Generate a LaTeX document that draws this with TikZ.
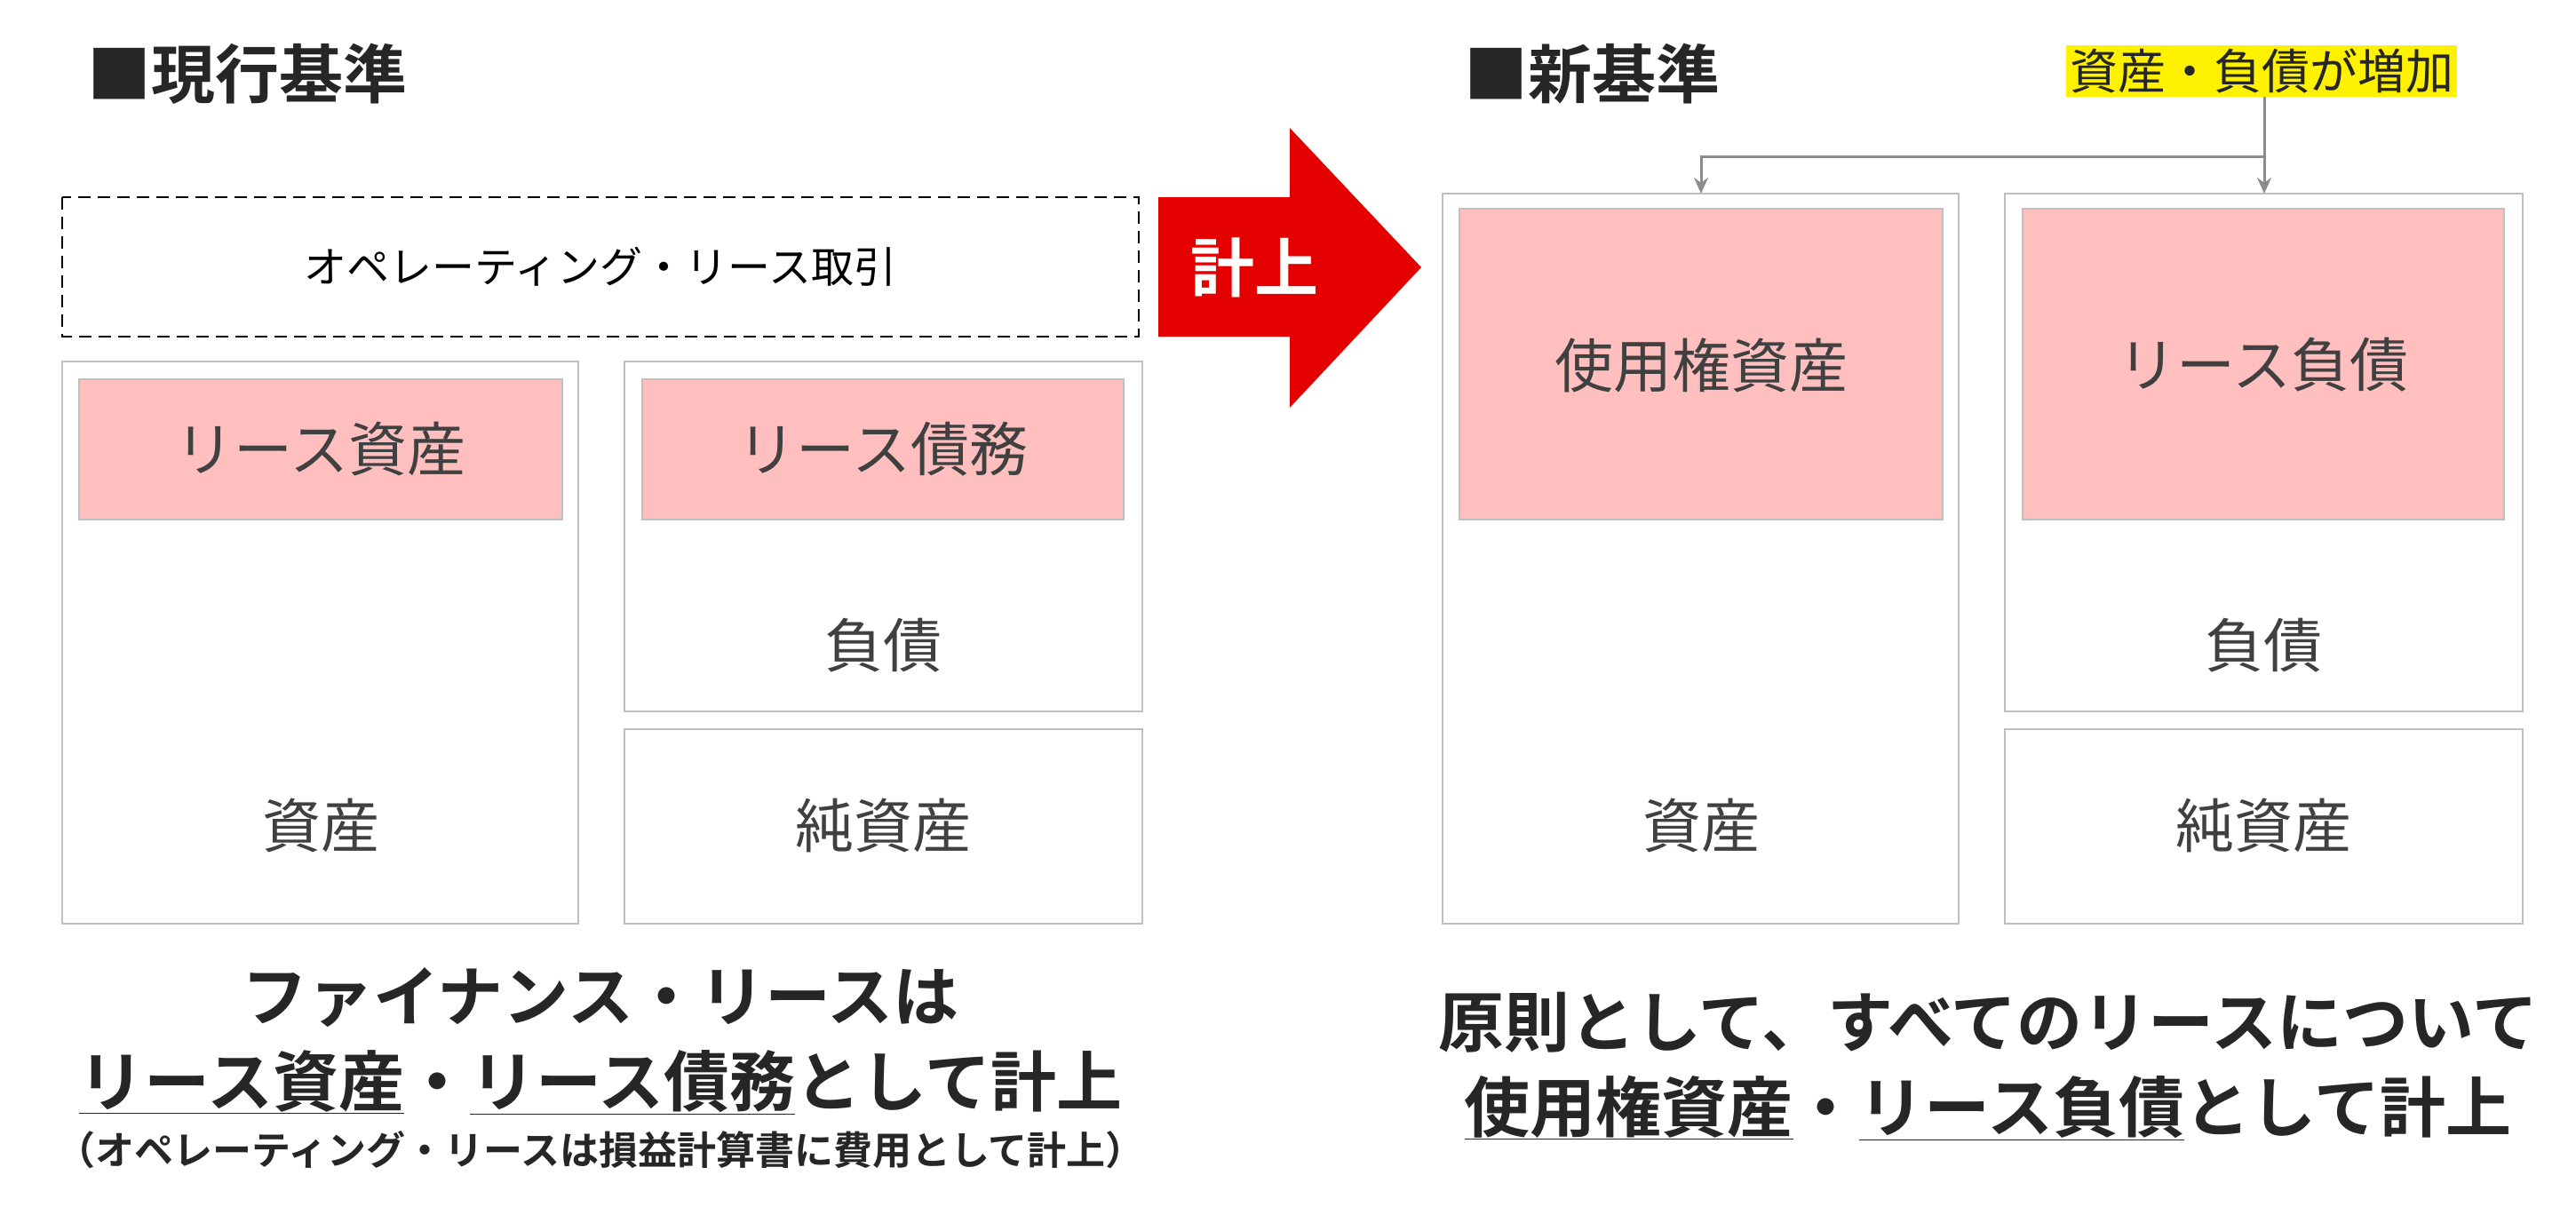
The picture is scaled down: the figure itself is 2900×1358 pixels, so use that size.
\documentclass[tikz,border=0pt]{standalone}
\usepackage{fontspec}
\usetikzlibrary{arrows.meta}
\setmainfont{Noto Sans CJK JP}
\newfontfamily\jpb{Noto Sans CJK JP Bold}
\begin{document}
\begin{tikzpicture}[x=1pt,y=-1pt,
 frame/.style={draw=black!25,line width=2pt},
 pinkbox/.style={draw=black!25,fill=pink!100!white,line width=2pt},
 lbl/.style={font=\fontsize{66}{70}\selectfont,text=black!75},
 ttl/.style={font=\jpb\fontsize{72}{80}\selectfont,text=black!85,anchor=west},
 big/.style={font=\jpb\fontsize{74}{96}\selectfont,text=black!85,align=center},
 con/.style={draw=black!45,line width=3pt,-{Stealth[length=18pt,width=16pt]}}]
\useasboundingbox (0,0) rectangle (2900,1358);
\node[ttl] (t1) at (95,83) {■現行基準};
\node[ttl] (t2) at (1645,83) {■新基準};
% left
\draw[dashed,line width=2pt,dash pattern=on 14pt off 8pt] (70,222) rectangle (1282,379);
\node[font=\fontsize{48}{52}\selectfont] (op) at (676,300) {オペレーティング・リース取引};
\draw[frame] (70,407) rectangle (651,1040);
\draw[pinkbox] (89,427) rectangle (633,585);
\node[lbl] (la) at (361,506) {リース資産};
\node[lbl] (a1) at (361,930) {資産};
\draw[frame] (703,407) rectangle (1286,801);
\draw[pinkbox] (723,427) rectangle (1265,585);
\node[lbl] (lb) at (994,506) {リース債務};
\node[lbl] (d1) at (994,727) {負債};
\draw[frame] (703,821) rectangle (1286,1040);
\node[lbl] (n1) at (994,930) {純資産};
% arrow
\fill[red!90!black] (1304,222) -- (1452,222) -- (1452,144) -- (1600,301) -- (1452,459) -- (1452,379) -- (1304,379) -- cycle;
\node[font=\jpb\fontsize{72}{80}\selectfont,text=white] (k) at (1412,301) {計上};
% right
\draw[frame] (1624,218) rectangle (2205,1040);
\draw[pinkbox] (1643,235) rectangle (2187,585);
\node[lbl] (ra) at (1915,411) {使用権資産};
\node[lbl] (a2) at (1915,930) {資産};
\draw[frame] (2257,218) rectangle (2840,801);
\draw[pinkbox] (2277,235) rectangle (2819,585);
\node[lbl] (rb) at (2548,411) {リース負債};
\node[lbl] (d2) at (2548,727) {負債};
\draw[frame] (2257,821) rectangle (2840,1040);
\node[lbl] (n2) at (2548,930) {純資産};
\node[fill=yellow,inner sep=4pt,font=\fontsize{54}{58}\selectfont,text=black!85] (y) at (2546,80) {資産・負債が増加};
\coordinate (j) at (2549,176);
\coordinate (c1) at (1915,176);
\coordinate (e1) at (1915,218);
\coordinate (e2) at (2549,218);
\draw[con] (y.south -| j) -- (e2);
\draw[con] (j) -- (c1) -- (e1);
% bottom text
\node[big] (b1) at (676,1172) {ファイナンス・リースは\\\underline{リース資産}・\underline{リース債務}として計上};
\node[font=\jpb\fontsize{44}{48}\selectfont,text=black!85] (b2) at (676,1295) {（オペレーティング・リースは損益計算書に費用として計上）};
\node[big] (b3) at (2238,1200) {原則として、すべてのリースについて\\\underline{使用権資産}・\underline{リース負債}として計上};
\end{tikzpicture}
\end{document}
